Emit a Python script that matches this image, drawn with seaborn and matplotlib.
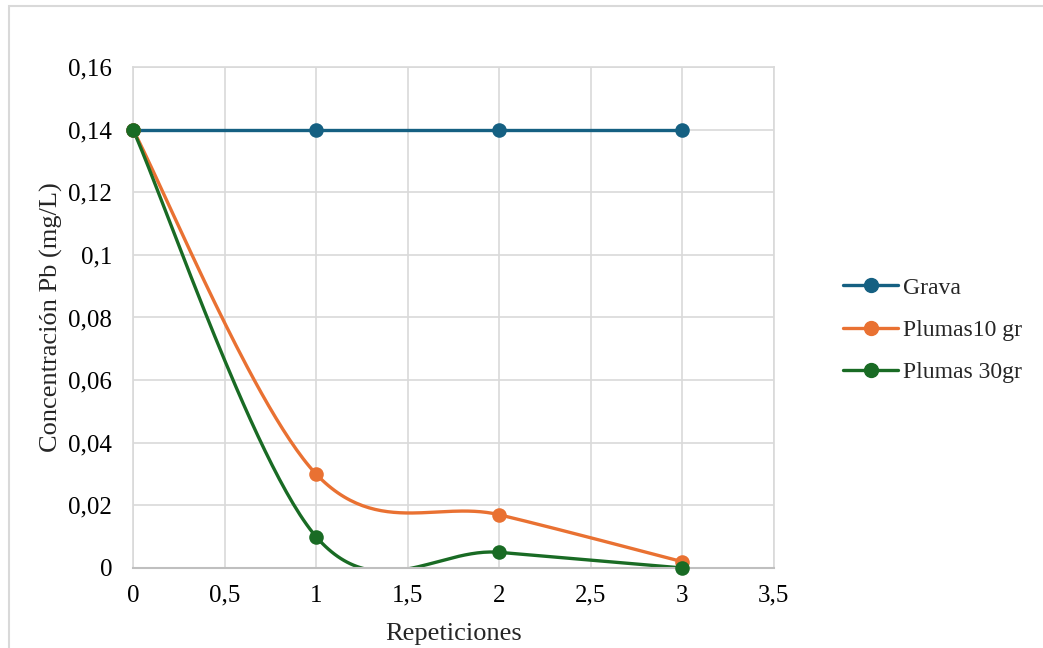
import numpy as np
import pandas as pd
import matplotlib
matplotlib.use("Agg")
import matplotlib.pyplot as plt
from matplotlib.lines import Line2D
from matplotlib.patches import Rectangle
import seaborn as sns

# data
repeticiones = [0, 1, 2, 3]
grava = [0.14, 0.14, 0.14, 0.14]
plumas_10 = [0.14, 0.03, 0.017, 0.002]
plumas_30 = [0.14, 0.01, 0.005, 0.0]
series_names = ["Grava", "Plumas10 gr", "Plumas 30gr"]
colors = ["#156082", "#E97132", "#196B24"]

y_ticks = [0, 0.02, 0.04, 0.06, 0.08, 0.10, 0.12, 0.14, 0.16]
y_tick_labels = ["0", "0,02", "0,04", "0,06", "0,08", "0,1", "0,12", "0,14", "0,16"]
x_ticks = [0, 0.5, 1, 1.5, 2, 2.5, 3, 3.5]
x_tick_labels = ["0", "0,5", "1", "1,5", "2", "2,5", "3", "3,5"]


def smooth_line(x, y, n=60):
    # Excel-style smoothed line: cubic Bezier segments with Catmull-Rom control points
    x = np.asarray(x, float)
    y = np.asarray(y, float)
    px = np.concatenate([[x[0]], x, [x[-1]]])
    py = np.concatenate([[y[0]], y, [y[-1]]])
    xs, ys = [], []
    t = np.linspace(0, 1, n)
    for i in range(len(x) - 1):
        p0 = np.array([px[i + 1], py[i + 1]])
        p3 = np.array([px[i + 2], py[i + 2]])
        c1 = p0 + (p3 - np.array([px[i], py[i]])) / 6
        c2 = p3 - (np.array([px[i + 3], py[i + 3]]) - p0) / 6
        b = ((1 - t) ** 3)[:, None] * p0 + (3 * (1 - t) ** 2 * t)[:, None] * c1 \
            + (3 * (1 - t) * t ** 2)[:, None] * c2 + (t ** 3)[:, None] * p3
        xs.extend(b[:, 0])
        ys.extend(b[:, 1])
    return pd.DataFrame({"x": xs, "y": ys})


sns.set_style("white")
plt.rcParams["font.family"] = ["Liberation Serif", "DejaVu Serif"]

fig = plt.figure(figsize=(10.43, 6.48), dpi=100)
ax = fig.add_axes([0.1275, 0.1235, 0.6145, 0.7731])

all_series = [grava, plumas_10, plumas_30]
for name, vals, col in zip(series_names, all_series, colors):
    curve = smooth_line(repeticiones, vals)
    sns.lineplot(data=curve, x="x", y="y", sort=False, estimator=None,
                 color=col, linewidth=2.4, ax=ax)
    pts = pd.DataFrame({"x": repeticiones, "y": vals})
    sns.scatterplot(data=pts, x="x", y="y", color=col, s=110, linewidth=0,
                    ax=ax, clip_on=False, zorder=5)

ax.set_xlim(0, 3.5)
ax.set_ylim(0, 0.16)
ax.set_xticks(x_ticks)
ax.set_xticklabels(x_tick_labels)
ax.set_yticks(y_ticks)
ax.set_yticklabels(y_tick_labels)
ax.tick_params(axis="both", length=0, labelsize=18, colors="black")
ax.tick_params(axis="x", pad=12)
ax.tick_params(axis="y", pad=15)
ax.grid(True, color="#d9d9d9", linewidth=1.2)
ax.set_axisbelow(True)
for side in ["left", "top", "right"]:
    ax.spines[side].set_color("#d9d9d9")
    ax.spines[side].set_linewidth(1.2)
ax.spines["bottom"].set_color("#bfbfbf")
ax.spines["bottom"].set_linewidth(1.5)

ax.set_xlabel("Repeticiones", fontsize=19, labelpad=12)
ax.set_ylabel("Concentración Pb (mg/L)", fontsize=19, labelpad=4)

handles = [Line2D([0], [0], color=c, linewidth=2.4, marker="o", markersize=10)
           for c in colors]
fig.legend(handles, series_names, loc="upper left",
           bbox_to_anchor=(843 / 1043, 1 - 277 / 648), frameon=False,
           fontsize=17, handlelength=2.35, handletextpad=0.2,
           labelspacing=0.88, borderpad=0, borderaxespad=0)

# chart-area border
fig.patches.append(Rectangle((9 / 1043, -0.1), 2, 1.1 - 6 / 648,
                             transform=fig.transFigure, fill=False,
                             edgecolor="#d9d9d9", linewidth=1.5))

fig.savefig("out.png", dpi=100)
